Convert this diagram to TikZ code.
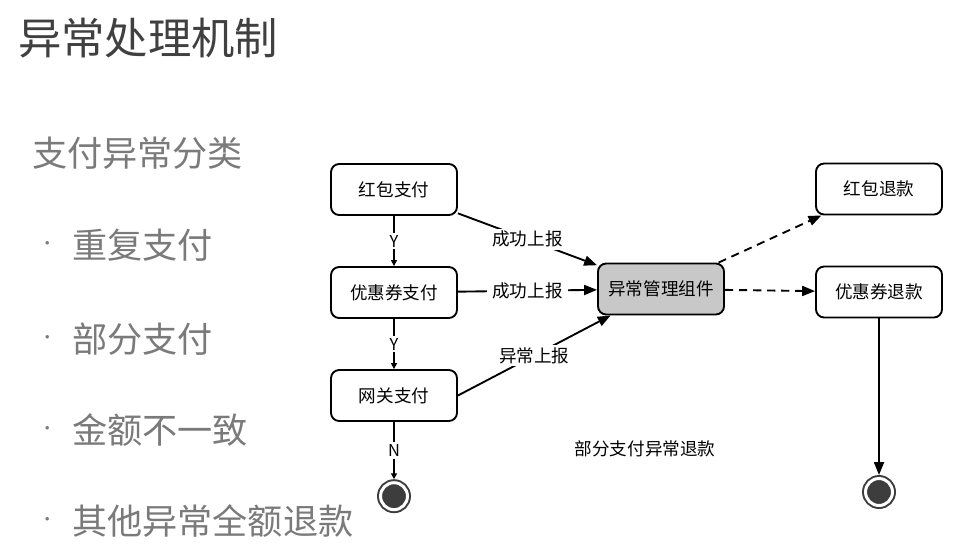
\documentclass[tikz,border=0pt]{standalone}
\usepackage{fontspec}
\setmainfont{Noto Sans CJK SC}
\usetikzlibrary{positioning,arrows.meta}
\definecolor{titlegray}{HTML}{404040}
\definecolor{listgray}{HTML}{7A7A7A}
\definecolor{boxgray}{HTML}{C8C8C8}
\definecolor{dotgray}{HTML}{3D3D3D}

\begin{document}
\begin{tikzpicture}[x=0.03cm,y=-0.03cm,node distance=3.09cm,on grid,
    box/.style={draw,rounded corners=7pt,line width=1.6pt,minimum width=3.78cm,
        minimum height=1.53cm,inner sep=0pt,font=\fontsize{15}{18}\selectfont},
    lbl/.style={fill=white,inner xsep=4.5pt,inner ysep=2pt,font=\fontsize{15}{18}\selectfont},
    yn/.style={fill=white,inner sep=2pt,font=\fontsize{14}{16}\selectfont},
    final/.style={circle,draw=dotgray,fill=dotgray,line width=1.7pt,double=white,
        double distance=2.55pt,minimum size=23pt,inner sep=0pt,outer sep=3pt},
    flow/.style={-{Triangle[length=11pt,width=8.5pt]},line width=1.6pt},
    refund/.style={flow,dash pattern=on 7pt off 5pt},
    branch/.style={-{Triangle[length=5pt,width=5pt]},line width=1.4pt},
    item/.style={anchor=west,text=listgray,font=\fontsize{30}{36}\selectfont}]
    \useasboundingbox (0,0) rectangle (956,559);

    % left text
    \node[anchor=west,text=titlegray,font=\fontsize{37}{44}\selectfont] (title) at (14,38) {异常处理机制};
    \node[item] (kinds) at (28,153) {支付异常分类};
    \foreach \txt/\ypos in {重复支付/245,部分支付/339,金额不一致/430,其他异常全额退款/521} {
        \node[item,font=\fontsize{14}{16}\selectfont] at (35,\ypos+1) {·};
        \node[item] at (68,\ypos) {\txt};
    }

    % payment column
    \node[box] (hbpay) at (394,189.5) {红包支付};
    \node[box] (yhpay) [below=of hbpay] {优惠券支付};
    \node[box] (wgpay) [below=of yhpay] {网关支付};
    \node[final] (endl) [below=3.02cm of wgpay] {};

    % manager and refunds
    \node[box,fill=boxgray] (mgr) at (661,289) {异常管理组件};
    \node[box] (hbback) at (879,189) {红包退款};
    \node[box] (yhback) [below=of hbback] {优惠券退款};
    \node[final] (endr) at (879,492) {};
    \node[font=\fontsize{15}{18}\selectfont] (partial) at (645,449) {部分支付异常退款};

    \path[branch]
        (hbpay) edge node[yn] {Y} (yhpay)
        (yhpay) edge node[yn] {Y} (wgpay)
        (wgpay) edge node[yn] {N} (endl);
    \path[flow]
        (hbpay) edge node[lbl] {成功上报} (mgr)
        (yhpay) edge node[lbl] {成功上报} (mgr)
        (wgpay.east) edge node[lbl] {异常上报} (mgr)
        (yhback) edge (endr);
    \path[refund]
        (mgr) edge (hbback)
        (mgr) edge (yhback);
\end{tikzpicture}
\end{document}
